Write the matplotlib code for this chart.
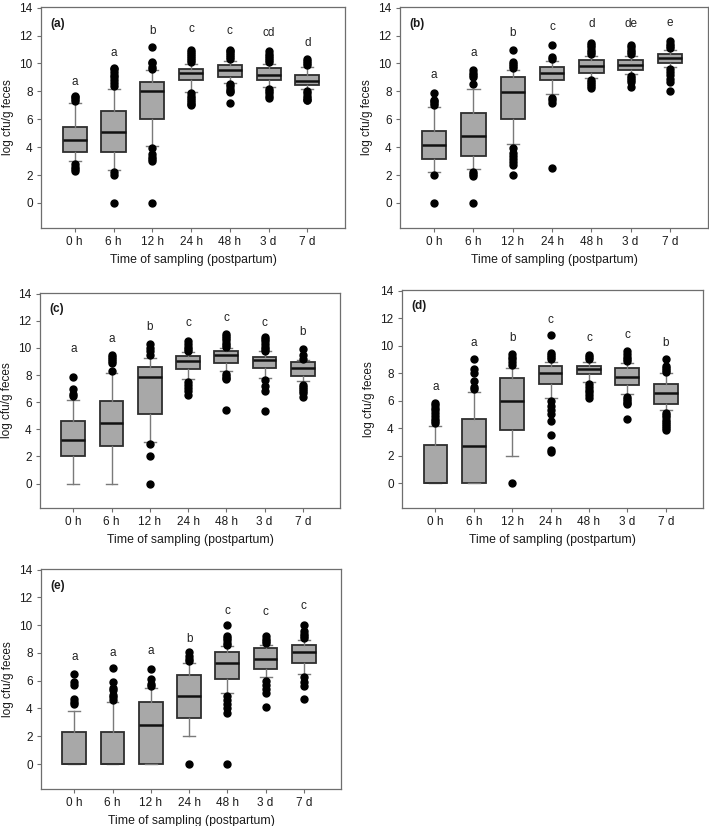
import matplotlib
matplotlib.use("Agg")
import matplotlib.pyplot as plt

plt.rcParams['font.family'] = ['Liberation Sans', 'DejaVu Sans']

categories = ["0 h", "6 h", "12 h", "24 h", "48 h", "3 d", "7 d"]
y_ticks = [0, 2, 4, 6, 8, 10, 12, 14]
xlabel = "Time of sampling (postpartum)"
ylabel = "log cfu/g feces"

# ---- panel (a)
a_med = [4.5, 5.05, 8.0, 9.3, 9.5, 9.15, 8.75]
a_q1 = [3.62, 3.65, 6.0, 8.8, 9.0, 8.8, 8.45]
a_q3 = [5.45, 6.6, 8.65, 9.6, 9.9, 9.65, 9.2]
a_lo = [2.98, 2.35, 4.05, 7.95, 8.6, 8.3, 8.15]
a_hi = [7.13, 8.18, 9.52, 9.95, 10.15, 9.95, 9.75]
a_fliers = [
    [7.3, 7.45, 7.6, 7.7, 2.8, 2.6, 2.45, 2.3],
    [8.4, 8.6, 8.8, 9.0, 9.2, 9.4, 9.6, 9.7, 2.2, 2.0, 0.0],
    [9.6, 9.75, 10.0, 10.1, 11.2, 3.95, 3.5, 3.3, 3.15, 3.0, 0.0],
    [10.1, 10.25, 10.4, 10.55, 10.7, 10.85, 11.0, 7.85, 7.7, 7.55, 7.4, 7.25, 7.1, 7.0],
    [10.3, 10.45, 10.6, 10.75, 10.9, 11.0, 8.5, 8.35, 8.2, 8.05, 7.95, 7.2],
    [10.1, 10.25, 10.4, 10.55, 10.7, 10.9, 8.2, 8.0, 7.85, 7.7, 7.5],
    [9.9, 10.05, 10.2, 10.3, 8.0, 7.85, 7.7, 7.55, 7.4, 7.35],
]
a_letters = ["a", "a", "b", "c", "c", "cd", "d"]
a_letter_y = [8.7, 10.75, 12.3, 12.45, 12.3, 12.2, 11.5]

# ---- panel (b)
b_med = [4.15, 4.82, 7.95, 9.3, 9.85, 9.88, 10.4]
b_q1 = [3.15, 3.35, 6.03, 8.83, 9.3, 9.5, 10.05]
b_q3 = [5.17, 6.42, 9.05, 9.75, 10.23, 10.23, 10.7]
b_lo = [2.25, 2.46, 4.2, 7.82, 8.95, 9.22, 9.74]
b_hi = [6.88, 8.18, 9.5, 10.15, 10.57, 10.52, 10.95]
b_fliers = [
    [7.0, 7.15, 7.3, 7.4, 7.9, 2.0, 0.0],
    [8.5, 9.0, 9.2, 9.35, 9.5, 2.25, 2.1, 1.95, 0.0],
    [9.65, 9.8, 9.95, 10.1, 10.95, 3.95, 3.6, 3.35, 3.15, 2.9, 2.7, 2.0],
    [10.3, 10.45, 11.35, 7.5, 7.35, 7.2, 2.5],
    [10.7, 10.85, 11.0, 11.15, 11.3, 11.5, 8.8, 8.65, 8.5, 8.35, 8.25],
    [10.7, 10.85, 11.0, 11.15, 11.35, 9.1, 8.95, 8.8, 8.7, 8.3],
    [11.1, 11.25, 11.4, 11.6, 9.6, 9.4, 9.2, 8.9, 8.7, 8.0],
]
b_letters = ["a", "a", "b", "c", "d", "de", "e"]
b_letter_y = [9.16, 10.74, 12.17, 12.65, 12.82, 12.8, 12.93]

# ---- panel (c)
c_med = [3.22, 4.47, 7.84, 9.04, 9.46, 9.09, 8.53]
c_q1 = [2.04, 2.75, 5.16, 8.43, 8.9, 8.53, 7.91]
c_q3 = [4.64, 6.09, 8.6, 9.39, 9.75, 9.34, 8.97]
c_lo = [0.0, 0.0, 3.1, 7.74, 8.28, 7.81, 7.54]
c_hi = [6.19, 8.18, 9.29, 9.7, 10.0, 9.75, 9.09]
c_fliers = [
    [6.45, 6.6, 7.0, 7.85],
    [8.3, 8.9, 9.05, 9.2, 9.35, 9.45],
    [9.5, 9.75, 10.0, 10.3, 2.95, 2.0, 0.0],
    [9.8, 9.95, 10.1, 10.3, 10.5, 7.5, 7.25, 7.05, 6.85, 6.5],
    [10.1, 10.25, 10.4, 10.55, 10.7, 10.85, 11.0, 8.1, 7.95, 7.8, 7.7, 5.45],
    [9.8, 9.95, 10.1, 10.3, 10.5, 10.65, 10.8, 7.6, 7.2, 6.8, 5.35],
    [9.2, 9.5, 9.9, 7.3, 7.15, 7.0, 6.85, 6.7, 6.4],
]
c_letters = ["a", "a", "b", "c", "c", "c", "b"]
c_letter_y = [9.9, 10.64, 11.55, 11.87, 12.2, 11.87, 11.18]

# ---- panel (d)
d_med = [0.0, 2.74, 5.98, 8.04, 8.28, 7.75, 6.59]
d_q1 = [0.0, 0.0, 3.85, 7.21, 7.94, 7.14, 5.76]
d_q3 = [2.81, 4.7, 7.65, 8.52, 8.52, 8.4, 7.21]
d_lo = [0.0, 0.0, 2.0, 6.22, 7.38, 6.49, 5.33]
d_hi = [4.19, 6.66, 8.4, 8.84, 8.84, 8.77, 7.99]
d_fliers = [
    [4.35, 4.5, 4.7, 4.9, 5.1, 5.3, 5.5, 5.7, 5.85],
    [6.85, 7.0, 7.45, 8.05, 8.3, 9.0],
    [8.6, 8.8, 9.0, 9.2, 9.4, 0.0],
    [9.0, 9.15, 9.3, 9.5, 10.8, 6.0, 5.6, 5.3, 5.05, 4.55, 3.5, 2.4, 2.25],
    [9.0, 9.15, 9.3, 7.2, 7.0, 6.8, 6.6, 6.4, 6.2],
    [8.9, 9.05, 9.2, 9.4, 9.6, 6.3, 6.15, 6.0, 5.85, 5.75, 4.65],
    [8.1, 8.25, 8.4, 8.55, 9.05, 5.1, 4.95, 4.8, 4.6, 4.45, 4.3, 4.15, 4.0, 3.9],
]
d_letters = ["a", "a", "b", "c", "c", "c", "b"]
d_letter_y = [7.02, 10.17, 10.53, 11.86, 10.53, 10.77, 10.17]

# ---- panel (e)
e_med = [0.0, 0.0, 2.8, 4.9, 7.25, 7.6, 8.09]
e_q1 = [0.0, 0.0, 0.0, 3.28, 6.15, 6.82, 7.3]
e_q3 = [2.32, 2.32, 4.5, 6.39, 8.06, 8.37, 8.59]
e_lo = [0.0, 0.0, 0.0, 2.0, 5.14, 6.27, 6.46]
e_hi = [3.8, 4.47, 5.45, 7.3, 8.47, 8.54, 8.9]
e_fliers = [
    [4.3, 4.5, 4.7, 5.7, 5.9, 6.5],
    [4.6, 4.8, 5.0, 5.3, 5.5, 5.9, 6.9],
    [5.6, 5.8, 6.1, 6.85],
    [7.4, 7.6, 7.8, 8.05, 0.0],
    [8.6, 8.75, 8.9, 9.05, 9.2, 10.0, 4.9, 4.6, 4.35, 4.05, 3.7, 0.0],
    [8.7, 8.85, 9.0, 9.25, 6.0, 5.7, 5.4, 5.1, 4.1],
    [9.1, 9.25, 9.4, 9.6, 10.05, 6.3, 5.9, 5.6, 4.7],
]
e_letters = ["a", "a", "a", "b", "c", "c", "c"]
e_letter_y = [7.73, 8.0, 8.16, 9.0, 11.05, 10.93, 11.41]

panels = [
    ("(a)", a_med, a_q1, a_q3, a_lo, a_hi, a_fliers, a_letters, a_letter_y),
    ("(b)", b_med, b_q1, b_q3, b_lo, b_hi, b_fliers, b_letters, b_letter_y),
    ("(c)", c_med, c_q1, c_q3, c_lo, c_hi, c_fliers, c_letters, c_letter_y),
    ("(d)", d_med, d_q1, d_q3, d_lo, d_hi, d_fliers, d_letters, d_letter_y),
    ("(e)", e_med, e_q1, e_q3, e_lo, e_hi, e_fliers, e_letters, e_letter_y),
]

W, H = 709, 826
# axes rectangles in pixels: left, top, right, bottom
rects_px = [
    (41, 7, 345, 228),
    (400, 7, 708, 228),
    (40, 293, 340, 508),
    (402, 290, 703, 508),
    (41, 569, 341, 789),
]

fig = plt.figure(figsize=(W / 100, H / 100), dpi=100)
spine_c = "#6e6e6e"
FS = 8.5

for (lab, med, q1, q3, lo, hi, fl, letters, ly), (l, t, r, b) in zip(panels, rects_px):
    ax = fig.add_axes([l / W, 1 - b / H, (r - l) / W, (b - t) / H])
    stats = []
    for i in range(len(categories)):
        stats.append(dict(med=med[i], q1=q1[i], q3=q3[i], whislo=lo[i],
                          whishi=hi[i], fliers=fl[i], label=categories[i]))
    pos = list(range(len(categories)))
    art = ax.bxp(stats, positions=pos, widths=0.62, patch_artist=True,
                 showfliers=True,
                 boxprops=dict(facecolor="#a8a8a8", edgecolor="#2e2e2e", linewidth=1.3),
                 medianprops=dict(color="#111111", linewidth=1.8),
                 whiskerprops=dict(color="#7a7a7a", linewidth=1.0),
                 capprops=dict(color="#7a7a7a", linewidth=1.0),
                 flierprops=dict(marker="o", markerfacecolor="black",
                                 markeredgecolor="black", markersize=5, linestyle="none"))
    # a median sitting on the box edge reads as a plain edge
    for i, mline in enumerate(art["medians"]):
        if med[i] == q1[i]:
            mline.set_linewidth(1.3)
            mline.set_color("#2e2e2e")
    for i, (txt, yy) in enumerate(zip(letters, ly)):
        ax.text(pos[i], yy, txt, ha="center", va="center", fontsize=FS, color="#222222")
    ax.set_xlim(-0.87, 6.97)
    ax.set_ylim(-1.8, 14.05)
    ax.set_yticks(y_ticks)
    ax.set_xticks(pos)
    ax.set_xticklabels(categories)
    ax.tick_params(axis="both", direction="out", length=3, width=0.8, color=spine_c,
                   labelsize=FS, labelcolor="#1a1a1a", pad=3)
    for s in ax.spines.values():
        s.set_color(spine_c)
        s.set_linewidth(0.9)
    ax.set_xlabel(xlabel, fontsize=FS + 0.3, color="#1a1a1a", labelpad=4)
    ax.set_ylabel(ylabel, fontsize=FS, color="#1a1a1a", labelpad=4)
    ax.text(0.03, 0.925, lab, transform=ax.transAxes, fontsize=FS,
            fontweight="bold", ha="left", va="center", color="#1a1a1a")

fig.savefig("out.png", dpi=100, facecolor="white")
